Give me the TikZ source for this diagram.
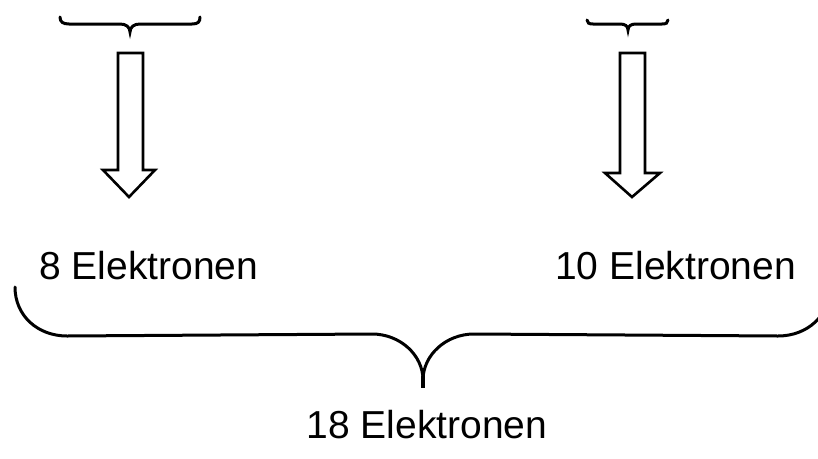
\documentclass[tikz,border=0pt]{standalone}
\usepackage{fontspec}
\setmainfont{Liberation Sans}
\begin{document}
\begin{tikzpicture}[x=1pt,y=-1pt,
  stroke/.style={line width=3pt,line cap=round},
  hollowarrow/.style={line width=2.6pt,line join=miter},
  label/.style={inner sep=0pt,font=\fontsize{39}{45}\selectfont,anchor=base west}]
  \useasboundingbox (0,0) rectangle (818,458);
  \clip (0,0) rectangle (818,458);

  % small brace above the left arrow
  \draw[stroke] (60,17) .. controls (60,22) and (63,24) .. (69,24)
    -- (120,24) .. controls (126,24) and (130,27) .. (130,32)
    .. controls (130,27) and (134,24) .. (140,24)
    -- (192,24) .. controls (198,24) and (200,22) .. (200,17);

  % small brace above the right arrow
  \draw[stroke] (587,20) .. controls (587,23) and (589,24) .. (593,24)
    -- (620,24) .. controls (625,24) and (628,26) .. (628,30)
    .. controls (628,26) and (631,24) .. (636,24)
    -- (662,24) .. controls (666,24) and (668,23) .. (668,20);

  % hollow arrows
  \draw[hollowarrow] (118,53) -- (143,53) -- (143,170) -- (155,170)
    -- (129,197) -- (103,170) -- (118,170) -- cycle;
  \draw[hollowarrow] (620,53) -- (645,53) -- (645,173) -- (660,173)
    -- (632,197) -- (605,173) -- (620,173) -- cycle;

  % labels
  \node[label] (l8)  at (39,279)  {8 Elektronen};
  \node[label] (l10) at (555,279) {10 Elektronen};
  \node[label,anchor=base] (l18) at (427,438) {18 Elektronen};

  % large brace joining both labels
  \draw[stroke] (15,287) .. controls (15,316) and (38,336) .. (67,336)
    -- (372,334) .. controls (400,334) and (423,355) .. (423,380)
    .. controls (423,355) and (446,334) .. (474,334)
    -- (778,336) .. controls (807,336) and (830,316) .. (830,287);
  \draw[line width=4pt] (423,376) -- (423,388);
\end{tikzpicture}
\end{document}
